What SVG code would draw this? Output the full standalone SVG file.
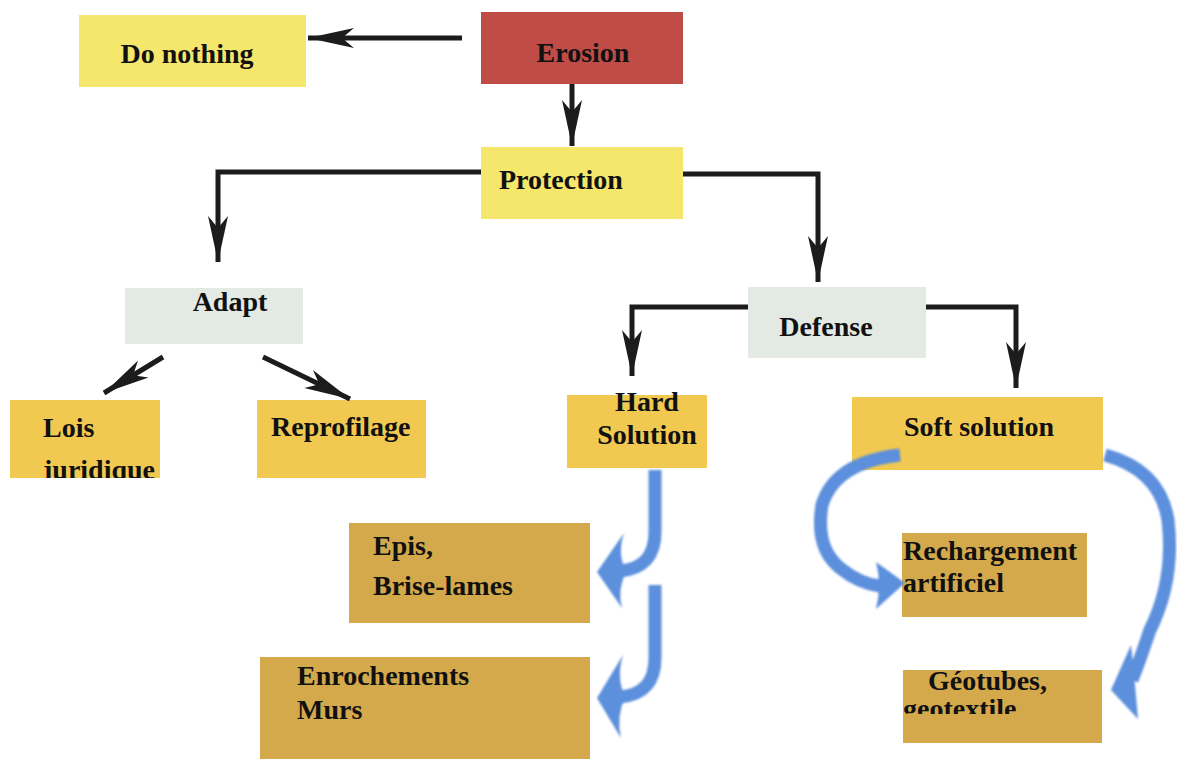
<svg xmlns="http://www.w3.org/2000/svg" width="1177" height="759" viewBox="0 0 1177 759">
<style>
.t{font-family:"Liberation Serif","Times New Roman",serif;font-weight:bold;font-size:28px;fill:#111}
.c{stroke:#1c1c1c;stroke-width:5;fill:none}
.b{stroke:#5b8fdc;stroke-width:13;fill:none;stroke-linecap:butt}
.bh{fill:#5b8fdc}
</style>
<defs>
<marker id="ah" markerUnits="userSpaceOnUse" markerWidth="50" markerHeight="24" refX="46" refY="12" orient="auto">
<path d="M46,12 L0,2 L12,12 L0,22 Z" fill="#1c1c1c"/>
</marker>
<filter id="blur"><feGaussianBlur stdDeviation="1.3"/></filter>
<clipPath id="cLois"><rect x="10" y="400" width="150" height="78"/></clipPath>
<clipPath id="cGeo"><rect x="903" y="670" width="199" height="44"/></clipPath>
</defs>
<rect width="1177" height="759" fill="#fff"/>
<g id="n-donothing"><rect x="79" y="15" width="227" height="72" fill="#f5e66c"/><text class="t" x="187" y="63" text-anchor="middle">Do nothing</text></g>
<g id="n-erosion"><rect x="481" y="12" width="202" height="72" fill="#bf4c46"/><text class="t" x="583" y="62" text-anchor="middle">Erosion</text></g>
<g id="n-protection"><rect x="481" y="147" width="202" height="72" fill="#f5e66c"/><text class="t" x="499" y="189">Protection</text></g>
<g id="n-adapt"><rect x="125" y="288" width="178" height="56" fill="#e3e9e3"/><text class="t" x="230" y="311" text-anchor="middle">Adapt</text></g>
<g id="n-defense"><rect x="748" y="287" width="178" height="71" fill="#e3e9e3"/><text class="t" x="826" y="336" text-anchor="middle">Defense</text></g>
<g id="n-lois"><rect x="10" y="400" width="150" height="78" fill="#f1c951"/><text class="t" clip-path="url(#cLois)" x="43" y="437">Lois<tspan x="43" y="479">juridique</tspan></text></g>
<g id="n-reprofilage"><rect x="257" y="400" width="169" height="78" fill="#f1c951"/><text class="t" x="271" y="436">Reprofilage</text></g>
<g id="n-hard"><rect x="567" y="395" width="140" height="73" fill="#f1c951"/><text class="t" x="647" y="411" text-anchor="middle">Hard<tspan x="647" y="444">Solution</tspan></text></g>
<g id="n-soft"><rect x="852" y="397" width="251" height="73" fill="#f1c951"/><text class="t" x="904" y="436">Soft solution</text></g>
<g id="n-epis"><rect x="349" y="523" width="241" height="100" fill="#d4a94b"/><text class="t" x="373" y="555">Epis,<tspan x="373" y="595">Brise-lames</tspan></text></g>
<g id="n-enroch"><rect x="260" y="657" width="330" height="102" fill="#d4a94b"/><text class="t" x="297" y="685">Enrochements<tspan x="297" y="719">Murs</tspan></text></g>
<g id="n-recharge"><rect x="902" y="533" width="185" height="84" fill="#d4a94b"/><text class="t" x="903" y="560">Rechargement<tspan x="903" y="592">artificiel</tspan></text></g>
<g id="n-geo"><rect x="903" y="670" width="199" height="73" fill="#d4a94b"/><text class="t" clip-path="url(#cGeo)" x="928" y="690">Géotubes,<tspan x="903" y="718">geotextile</tspan></text></g>
<g id="connectors">
<path class="c" d="M462,38 H308" marker-end="url(#ah)"/>
<path class="c" d="M572,84 V146" marker-end="url(#ah)"/>
<path class="c" d="M481,172 H218 V262" marker-end="url(#ah)"/>
<path class="c" d="M683,174 H818 V282" marker-end="url(#ah)"/>
<path class="c" d="M163,357 L104,393" marker-end="url(#ah)"/>
<path class="c" d="M263,357 L350,399" marker-end="url(#ah)"/>
<path class="c" d="M748,307 H632 V376" marker-end="url(#ah)"/>
<path class="c" d="M926,307 H1016 V388" marker-end="url(#ah)"/>
<g filter="url(#blur)">
<path class="b" d="M655,470 V532 Q655,568 620,571"/>
<path class="bh" d="M597,572 L624,533 Q617,553 626,572 Q617,590 622,608 Z"/>
<path class="b" d="M655,585 V658 Q655,694 620,697"/>
<path class="bh" d="M597,698 L623,655 Q616,677 625,697 Q616,717 621,738 Z"/>
<path class="b" d="M900,455 Q835,462 822,505 Q815,548 840,568 Q860,584 880,586"/>
<path class="bh" d="M905,583 L876,562 Q882,585 876,609 Z"/>
<path class="b" d="M1105,455 Q1160,470 1168,520 Q1175,580 1150,630 Q1140,660 1132,680"/>
<path class="bh" d="M1111,690 L1131,645 Q1134,672 1138,719 Z"/>
</g>
</g>
</svg>
